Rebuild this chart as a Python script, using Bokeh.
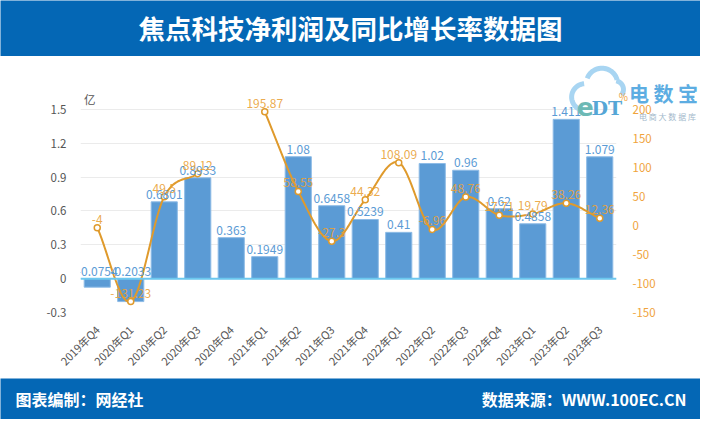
import numpy as np
from bokeh.plotting import figure
from bokeh.layouts import column
from bokeh.models import (Range1d, LinearAxis, FixedTicker, Span, Label,
                          ColumnDataSource)
from bokeh.core.properties import value
from bokeh.embed import file_html
from bokeh.resources import INLINE

# ---------------- data ----------------
quarters = ["2019年Q4", "2020年Q1", "2020年Q2", "2020年Q3", "2020年Q4", "2021年Q1",
            "2021年Q2", "2021年Q3", "2021年Q4", "2022年Q1", "2022年Q2", "2022年Q3",
            "2022年Q4", "2023年Q1", "2023年Q2", "2023年Q3"]
profit = [-0.0754, -0.2033, 0.6801, 0.8933, 0.363, 0.1949, 1.08, 0.6458,
          0.5239, 0.41, 1.02, 0.96, 0.62, 0.4858, 1.411, 1.079]
growth = [-4, -131.23, 49.5, 89.12, None, 195.87, 58.55, -27.3,
          44.32, 108.09, -6.96, 48.76, 17.71, 19.79, 38.26, 12.36]
left_ticks = [-0.3, 0, 0.3, 0.6, 0.9, 1.2, 1.5]
left_tick_labels = ["-0.3", "0", "0.3", "0.6", "0.9", "1.2", "1.5"]
right_ticks = [-150, -100, -50, 0, 50, 100, 150, 200]
right_tick_labels = ["-150", "-100", "-50", "0", "50", "100", "150", "200"]

title = "焦点科技净利润及同比增长率数据图"
footer_left = "图表编制：网经社"
footer_right = "数据来源：WWW.100EC.CN"
unit_left = "亿"

# ---------------- styles / geometry ----------------
CJK = "Noto Sans CJK SC"
BAR = "#5B9BD5"
LINE = "#DF9A2C"
LINE_LBL = "#E9A137"
HEAD = "#0467B5"

W = 700
HEAD_H = 56
FOOT_H = 41
MAIN_H = 419 - HEAD_H - FOOT_H        # 322
ML, MR, MB = 80, 84, 66
FRAME_H = MAIN_H - MB                 # 256
AREA_TOP = 52.8                       # px from frame top to top tick line
SX, SY = W / 716, 419 / 435           # reference -> page scale
PAGE_MARGIN = 8

def base_fig(w, h, bg):
    f = figure(width=w, height=h, output_backend="svg", toolbar_location=None,
               x_range=Range1d(0, w), y_range=Range1d(0, h),
               x_axis_location=None, y_axis_location=None, min_border=0,
               frame_align=False)
    f.grid.visible = False
    f.outline_line_color = None
    f.background_fill_color = bg
    f.border_fill_color = bg
    return f

# ---------------- header ----------------
hdr = base_fig(W, HEAD_H, HEAD)
hdr.add_layout(Label(x=W / 2, y=HEAD_H - 27, text=title, text_align="center",
                     text_baseline="middle", text_color="white", text_font=CJK,
                     text_font_style="bold", text_font_size="26.5px"))

# ---------------- main chart ----------------
idx = list(range(len(quarters)))
lspan = left_ticks[-1] - left_ticks[0]
rspan = right_ticks[-1] - right_ticks[0]
area_h = FRAME_H - AREA_TOP
l_top = left_ticks[-1] + AREA_TOP * lspan / area_h
r_top = right_ticks[-1] + AREA_TOP * rspan / area_h

p = figure(width=W, height=MAIN_H, output_backend="svg", toolbar_location=None,
           x_range=Range1d(-0.5, len(quarters) - 0.5),
           y_range=Range1d(left_ticks[0], l_top),
           min_border_left=ML, min_border_right=MR,
           min_border_top=0, min_border_bottom=MB, frame_align=False)
p.extra_y_ranges = {"pct": Range1d(right_ticks[0], r_top)}
p.outline_line_color = None
p.background_fill_color = "white"
p.border_fill_color = "white"

xa = p.xaxis[0]
xa.ticker = FixedTicker(ticks=idx)
xa.major_label_overrides = {i: q for i, q in zip(idx, quarters)}
xa.major_label_orientation = np.pi / 4
xa.axis_line_color = None
xa.major_tick_line_color = None
xa.minor_tick_line_color = None
xa.major_label_text_font = CJK
xa.major_label_text_font_size = "11px"
xa.major_label_text_color = "#555555"
xa.major_label_standoff = 9

ya = p.yaxis[0]
ya.ticker = FixedTicker(ticks=left_ticks)
ya.major_label_overrides = {t: s for t, s in zip(left_ticks, left_tick_labels)}
ya.axis_line_color = None
ya.major_tick_line_color = None
ya.minor_tick_line_color = None
ya.major_label_text_font = CJK
ya.major_label_text_font_size = "11.5px"
ya.major_label_text_color = "#555555"
ya.major_label_standoff = 8

ra = LinearAxis(y_range_name="pct", ticker=FixedTicker(ticks=right_ticks))
ra.major_label_overrides = {t: s for t, s in zip(right_ticks, right_tick_labels)}
ra.axis_line_color = None
ra.major_tick_line_color = None
ra.minor_tick_line_color = None
ra.major_label_text_font = CJK
ra.major_label_text_font_size = "11.5px"
ra.major_label_text_color = "#F0A33C"
ra.major_label_standoff = 10
p.add_layout(ra, "right")

p.xgrid.grid_line_color = None
p.ygrid.ticker = FixedTicker(ticks=left_ticks)
p.ygrid.grid_line_color = "#EBEBEB"

bar_src = ColumnDataSource(dict(x=idx, top=profit,
                                ly=[max(v, 0) for v in profit],
                                txt=[f"{v:g}" for v in profit]))
p.vbar(x="x", top="top", bottom=0, width=0.78, source=bar_src,
       fill_color=BAR, line_color="#8DBBE6", line_width=1)

p.add_layout(Span(location=0, dimension="width", line_color="#6CC8EF", line_width=2))

def smooth(xs, ys, n=24):
    xs = np.asarray(xs, float)
    ys = np.asarray(ys, float)
    if len(xs) < 2:
        return xs, ys
    m = np.zeros_like(ys)
    for i in range(len(ys)):
        a = ys[max(i - 1, 0)]
        b = ys[min(i + 1, len(ys) - 1)]
        d = xs[min(i + 1, len(xs) - 1)] - xs[max(i - 1, 0)]
        m[i] = (b - a) / d
    ox, oy = [], []
    for i in range(len(xs) - 1):
        h = xs[i + 1] - xs[i]
        t = np.linspace(0, 1, n, endpoint=(i == len(xs) - 2))
        h00 = 2 * t**3 - 3 * t**2 + 1
        h10 = t**3 - 2 * t**2 + t
        h01 = -2 * t**3 + 3 * t**2
        h11 = t**3 - t**2
        ox.extend(xs[i] + t * h)
        oy.extend(h00 * ys[i] + h10 * h * m[i] + h01 * ys[i + 1] + h11 * h * m[i + 1])
    return np.array(ox), np.array(oy)

segs, cur = [], []
for i, v in zip(idx, growth):
    if v is None:
        if cur:
            segs.append(cur)
        cur = []
    else:
        cur.append((i, v))
if cur:
    segs.append(cur)

for s in segs:
    sx, sy = smooth([a for a, _ in s], [b for _, b in s])
    p.line(sx, sy, y_range_name="pct", line_color=LINE, line_width=2)

gx = [i for i, v in zip(idx, growth) if v is not None]
gy = [v for v in growth if v is not None]
g_src = ColumnDataSource(dict(x=gx, y=gy, txt=[f"{v:g}" for v in gy]))
p.scatter("x", "y", source=g_src, y_range_name="pct", size=6,
          fill_color="white", line_color=LINE, line_width=1.5)

p.text("x", "ly", text="txt", source=bar_src, text_align="center",
       text_baseline="bottom", y_offset=-3, text_color="#5B9BD5",
       text_font=value(CJK), text_font_size="12px")
p.text("x", "y", text="txt", source=g_src, y_range_name="pct",
       text_align="center", text_baseline="bottom", y_offset=-4,
       text_color=LINE_LBL, text_font=value(CJK), text_font_size="12px",
       text_alpha=0.9)

# ---------------- footer ----------------
ftr = base_fig(W, FOOT_H, HEAD)
ftr.add_layout(Label(x=15, y=FOOT_H - 20, text=footer_left, text_align="left",
                     text_baseline="middle", text_color="white", text_font=CJK,
                     text_font_style="bold", text_font_size="16px"))
ftr.add_layout(Label(x=686, y=FOOT_H - 20, text=footer_right, text_align="right",
                     text_baseline="middle", text_color="white", text_font=CJK,
                     text_font_style="bold", text_font_size="16px"))

# ---------------- transparent overlay: unit label + logo (decoration) ----------------
OW, OH = W, 64
OY = HEAD_H
ov = base_fig(OW, OH, "white")
ov.background_fill_alpha = 0
ov.border_fill_alpha = 0

def ox_(rx):
    return rx * SX

def oy_(ry):
    return (OY + OH) - ry * SY

ov.add_layout(Label(x=ox_(83), y=oy_(94), text=unit_left, text_align="center",
                    text_baseline="middle", text_color="#555555", text_font=CJK,
                    text_font_size="11.5px"))

th = np.linspace(0, 1, 30)
for cx, cy, r, a0, a1 in [(590, 92, 14, 250, 95), (607, 78, 16, 160, 15), (620, 84, 9, 80, -40)]:
    ang = np.radians(a0 + (a1 - a0) * th)
    ov.line([ox_(cx + r * np.cos(a)) for a in ang], [oy_(cy - r * np.sin(a)) for a in ang],
            line_color="#A8D5F2", line_width=5)
ov.add_layout(Label(x=ox_(590), y=oy_(102), text="e", text_align="center",
                    text_baseline="middle", text_color="#6DB9B5",
                    text_font="DejaVu Sans", text_font_style="bold",
                    text_font_size="25px"))
ov.add_layout(Label(x=ox_(612), y=oy_(103), text="DT", text_align="center",
                    text_baseline="middle", text_color="#55A6D6",
                    text_font="DejaVu Serif", text_font_style="bold",
                    text_font_size="19px"))
ov.add_layout(Label(x=ox_(629), y=oy_(91), text="%", text_align="center",
                    text_baseline="middle", text_color="#F0A33C",
                    text_font=CJK, text_font_size="10px"))
ov.add_layout(Label(x=ox_(670), y=oy_(88), text="电 数 宝", text_align="center",
                    text_baseline="middle", text_color="#5DADE2", text_font=CJK,
                    text_font_style="bold", text_font_size="20px"))
ov.add_layout(Label(x=ox_(674), y=oy_(112), text="电 商 大 数 据 库", text_align="center",
                    text_baseline="middle", text_color="#A3B9CB", text_font=CJK,
                    text_font_size="8px"))
ov.styles = {"position": "absolute", "left": f"{PAGE_MARGIN}px",
             "top": f"{OY + PAGE_MARGIN}px"}

layout = column(hdr, p, ftr, ov, spacing=0)
open("out.html", "w").write(file_html(layout, INLINE))
